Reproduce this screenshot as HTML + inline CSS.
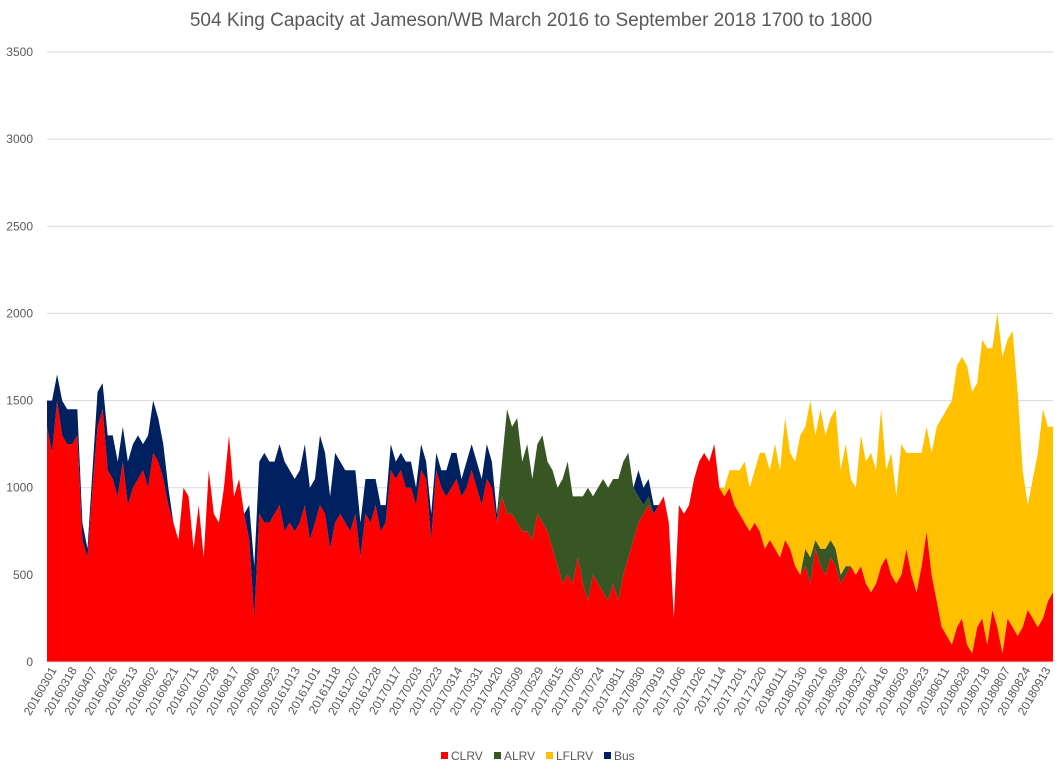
<!DOCTYPE html>
<html><head><meta charset="utf-8"><style>
body{margin:0;background:#fff;font-family:"Liberation Sans",sans-serif}
svg{display:block}
</style></head><body>
<svg id="chart" width="1062" height="767" xmlns="http://www.w3.org/2000/svg"></svg>
<script>
const tickLabels=[0,500,1000,1500,2000,2500,3000,3500];
const dateLabels=["20160301","20160318","20160407","20160426","20160513","20160602","20160621","20160711","20160728","20160817","20160906","20160923","20161013","20161101","20161118","20161207","20161228","20170117","20170203","20170223","20170314","20170331","20170420","20170509","20170529","20170615","20170705","20170724","20170811","20170830","20170919","20171006","20171026","20171114","20171201","20171220","20180111","20180130","20180216","20180308","20180327","20180416","20180503","20180523","20180611","20180628","20180718","20180807","20180824","20180913"];
const clrv=[1350,1200,1500,1300,1250,1250,1300,700,600,1000,
1350,1450,1100,1050,950,1150,900,1000,1050,1100,
1000,1200,1150,1050,900,800,700,1000,950,650,
900,600,1100,850,800,1000,1300,950,1050,850,
700,250,850,800,800,850,900,750,800,750,
800,900,700,800,900,850,650,800,850,800,
750,850,600,850,800,900,750,800,1100,1050,
1100,1000,1000,900,1100,1050,700,1100,1000,950,
1000,1050,950,1000,1100,1000,900,1050,1000,800,
950,850,850,800,750,750,700,850,800,750,
650,550,450,500,450,600,450,350,500,450,
400,350,450,350,500,600,700,800,850,900,
850,900,950,800,250,900,850,900,1050,1150,
1200,1150,1250,1000,950,1000,900,850,800,750,
800,750,650,700,650,600,700,650,550,500,
550,450,650,550,500,600,550,450,500,550,
500,550,450,400,450,550,600,500,450,500,
650,500,400,550,750,500,350,200,150,100,
200,250,100,50,200,250,100,300,200,50,
250,200,150,200,300,250,200,250,350,400];
const alrv=[0,0,0,0,0,0,0,0,0,0, 0,0,0,0,0,0,0,0,0,0, 0,0,0,0,0,0,0,0,0,0, 0,0,0,0,0,0,0,0,0,0,
0,0,0,0,0,0,0,0,0,0, 0,0,0,0,0,0,0,0,0,0, 0,0,0,0,0,0,0,0,0,0, 0,0,0,0,0,0,0,0,0,0, 0,0,0,0,0,0,0,0,0,0,
200,600,500,600,400,500,350,400,500,400,
450,450,600,650,500,350,500,650,450,550,
650,650,600,700,650,600,300,150,50,50,
0,0,0,0,0,0,0,0,0,0, 0,0,0,0,0,0,0,0,0,0, 0,0,0,0,0,0,0,0,0,0,
100,150,50,100,150,100,100,50,50,0,
0,0,0,0,0,0,0,0,0,0, 0,0,0,0,0,0,0,0,0,0, 0,0,0,0,0,0,0,0,0,0, 0,0,0,0,0,0,0,0,0,0];
const lflrv=[0,0,0,0,0,0,0,0,0,0, 0,0,0,0,0,0,0,0,0,0, 0,0,0,0,0,0,0,0,0,0, 0,0,0,0,0,0,0,0,0,0, 0,0,0,0,0,0,0,0,0,0,
0,0,0,0,0,0,0,0,0,0, 0,0,0,0,0,0,0,0,0,0, 0,0,0,0,0,0,0,0,0,0, 0,0,0,0,0,0,0,0,0,0, 0,0,0,0,0,0,0,0,0,0,
0,0,0,0,0,0,0,0,0,0, 0,0,0,0,0,0,0,0,0,0, 0,0,0,0,0,0,0,0,0,0,
0,0,0,0,50,100,200,250,350,250,
300,450,550,400,600,500,700,550,600,800,
700,900,600,800,650,700,800,600,700,500,
500,750,700,800,650,900,500,700,500,750,
550,700,800,650,600,700,1000,1200,1300,1400,
1500,1500,1600,1500,1400,1600,1700,1500,1800,1700,
1600,1700,1400,900,600,800,1000,1200,1000,950];
const bus=[150,300,150,200,200,200,150,100,50,100,
200,150,200,250,200,200,250,250,250,150,
300,300,250,200,100,0,0,0,0,0,
0,0,0,0,0,0,0,0,0,0,
200,300,300,400,350,300,350,400,300,300,
300,350,300,250,400,350,300,400,300,300,
350,250,200,200,250,150,150,100,150,100,
100,150,150,100,150,100,150,100,100,150,
200,150,100,150,150,150,150,200,150,50,
0,0,0,0,0,0,0,0,0,0, 0,0,0,0,0,0,0,0,0,0,
0,0,0,0,0,0,0,150,100,100,
50,0,0,0,0,0,0,0,0,0,
0,0,0,0,0,0,0,0,0,0, 0,0,0,0,0,0,0,0,0,0, 0,0,0,0,0,0,0,0,0,0, 0,0,0,0,0,0,0,0,0,0,
0,0,0,0,0,0,0,0,0,0, 0,0,0,0,0,0,0,0,0,0, 0,0,0,0,0,0,0,0,0,0];
const NS="http://www.w3.org/2000/svg";
const svg=document.getElementById('chart');
const L=47,R=1053,T=52,B=662,YMAX=3500;
const y=v=>B-(v/YMAX)*(B-T);
const n=clrv.length;
const x=i=>L+i*(R-L)/(n-1);
function mk(t,a){const e=document.createElementNS(NS,t);for(const k in a)e.setAttribute(k,a[k]);svg.appendChild(e);return e;}
const title=mk('text',{x:531,y:26,'text-anchor':'middle','font-size':19,fill:'#595959'});
title.textContent='504 King Capacity at Jameson/WB March 2016 to September 2018  1700 to 1800';


tickLabels.forEach(v=>{
 const g=mk('line',{x1:L,x2:R,y1:y(v),y2:y(v),stroke:'#d9d9d9','stroke-width':1});
 
 
 const t=mk('text',{x:33,y:y(v)+4,'text-anchor':'end','font-size':12,fill:'#595959'});
 t.textContent=v;
 
 
});
const series=[['clrv',clrv,'#ff0000'],['alrv',alrv,'#375623'],['lflrv',lflrv,'#ffc000'],['bus',bus,'#002060']];
let base=new Array(n).fill(0);
series.forEach(([name,arr,col])=>{
 const top=base.map((b,i)=>b+arr[i]);
 let pts=[];
 for(let i=0;i<n;i++)pts.push(x(i)+','+y(top[i]));
 for(let i=n-1;i>=0;i--)pts.push(x(i)+','+y(base[i]));
 const p=mk('polygon',{points:pts.join(' '),fill:col});
 
 
 base=top;
});
const ax=mk('line',{x1:L,x2:R,y1:B,y2:B,stroke:'#d9d9d9'});


const step=(R-L-12)/(dateLabels.length-1);
dateLabels.forEach((d,i)=>{
 const px=L+6+i*step;
 const t=mk('text',{x:0,y:0,'text-anchor':'end','font-size':12,fill:'#595959',transform:`translate(${px+4},${B+8}) rotate(-60)`});
 t.textContent=d;
 
 
});
const leg=[['CLRV','#ff0000',441],['ALRV','#375623',494],['LFLRV','#ffc000',546],['Bus','#002060',604]];
leg.forEach(([nm,c,lx])=>{
 const r=mk('rect',{x:lx,y:752,width:7,height:7,fill:c});
 
 
 const t=mk('text',{x:lx+10,y:760,'font-size':12,fill:'#595959'});
 t.textContent=nm;
 
 
});
</script>
</body></html>
